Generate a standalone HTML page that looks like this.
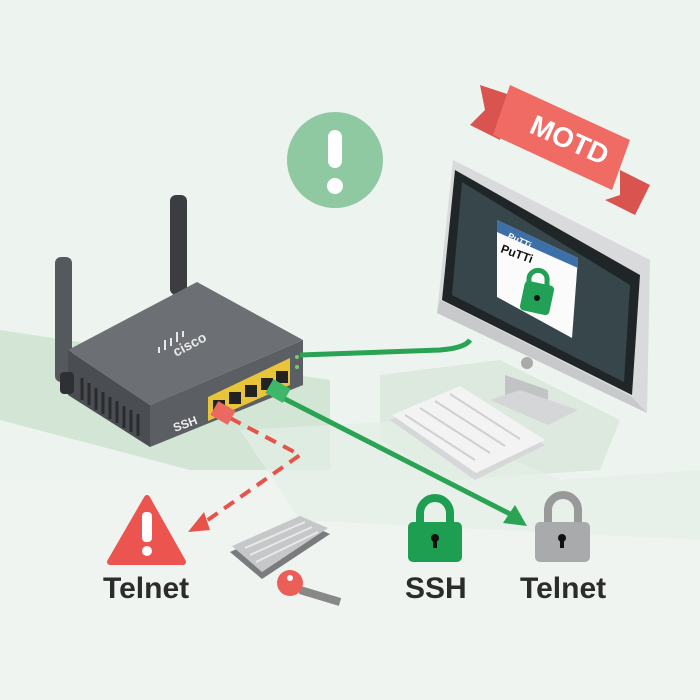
<!DOCTYPE html>
<html><head><meta charset="utf-8"><style>
html,body{margin:0;padding:0;background:#edf3ee;}
svg{display:block}
text{font-family:"Liberation Sans",sans-serif;font-weight:bold}
</style></head><body>
<svg width="700" height="700" viewBox="0 0 700 700" xmlns="http://www.w3.org/2000/svg">
<rect width="700" height="700" fill="#edf3ee"/>
<rect y="480" width="700" height="220" fill="#eff4f0"/>
<!-- floor shapes -->
<polygon points="0,330 330,380 330,470 190,470 0,420" fill="#d3e6d6"/>
<polygon points="380,375 500,360 620,420 600,470 450,480 380,440" fill="#dde9df"/>
<polygon points="240,430 420,420 560,480 700,470 700,540 300,520" fill="#e4eee5" opacity="0.7"/>
<!-- exclamation circle -->
<circle cx="335" cy="160" r="48" fill="#8ec9a2"/>
<rect x="328" y="130" width="14" height="38" rx="7" fill="#fff"/>
<circle cx="335" cy="186" r="8" fill="#fff"/>
<!-- antennas -->
<rect x="170" y="195" width="17" height="100" rx="6" fill="#3b3d40"/>
<rect x="55" y="257" width="17" height="125" rx="6" fill="#55585c"/>
<!-- router -->
<polygon points="68,350 150,405 150,447 68,395" fill="#4a4d51"/>
<polygon points="150,405 303,340 303,385 150,447" fill="#5b5e62"/>
<polygon points="68,350 197,282 303,340 150,405" fill="#6c6f73"/>
<rect x="60" y="372" width="14" height="22" rx="4" fill="#2e3033"/>
<g stroke="#2a2c2f" stroke-width="3">
<line x1="82" y1="378" x2="82" y2="400"/><line x1="89" y1="383" x2="89" y2="405"/><line x1="96" y1="388" x2="96" y2="410"/><line x1="103" y1="392" x2="103" y2="414"/><line x1="110" y1="397" x2="110" y2="419"/><line x1="117" y1="401" x2="117" y2="423"/><line x1="124" y1="406" x2="124" y2="428"/><line x1="131" y1="410" x2="131" y2="432"/><line x1="138" y1="414" x2="138" y2="436"/>
</g>
<text x="176" y="357" font-size="14" fill="#e8e8e8" transform="rotate(-28 176 357)">cisco</text>
<g fill="#e8e8e8"><rect x="158" y="347" width="2" height="6"/><rect x="164" y="340" width="2" height="10"/><rect x="170" y="338" width="2" height="8"/><rect x="176" y="332" width="2" height="10"/><rect x="182" y="331" width="2" height="6"/></g>
<polygon points="208,397 290,358 290,385 208,421" fill="#e8c43a"/>
<g fill="#222"><rect x="213" y="400" width="12" height="12"/><rect x="229" y="392" width="12" height="12"/><rect x="245" y="385" width="12" height="12"/><rect x="261" y="378" width="12" height="12"/><rect x="276" y="371" width="12" height="12"/></g>
<text x="175" y="432" font-size="12" fill="#eee" transform="rotate(-20 175 432)">SSH</text>
<circle cx="297" cy="357" r="2" fill="#7c7"/><circle cx="297" cy="367" r="2" fill="#7c7"/>
<!-- cables -->
<path d="M300,355 L440,350 Q465,348 470,340" stroke="#2aa354" stroke-width="5" fill="none"/>
<path d="M283,398 L512,515" stroke="#2aa354" stroke-width="5" fill="none"/>
<polygon points="527,526 503,523 515,505" fill="#2aa354"/>
<rect x="268" y="383" width="20" height="16" fill="#3cb868" transform="rotate(30 278 391)"/>
<path d="M230,418 L300,455 L205,522" stroke="#e5534b" stroke-width="4" stroke-dasharray="12,8" fill="none"/>
<polygon points="188,532 204,512 210,530" fill="#e5534b"/>
<rect x="213" y="405" width="20" height="16" fill="#ea6a62" transform="rotate(30 223 413)"/>
<!-- monitor -->
<polygon points="505,375 548,390 548,413 505,400" fill="#c2c3c4"/>
<polygon points="490,400 520,390 578,410 548,425" fill="#d5d6d7"/>
<polygon points="453,160 650,260 647,413 437,313" fill="#d9dadb"/>
<polygon points="455,170 640,275 632,395 442,300" fill="#202628"/>
<polygon points="462,182 630,285 624,382 452,295" fill="#36464a"/>
<polygon points="440,300 632,397 647,413 437,313" fill="#c8c9ca"/>
<circle cx="527" cy="363" r="6" fill="#aaa"/>
<!-- putty window -->
<polygon points="497,220 578,258 572,338 497,297" fill="#fbfbfb"/>
<polygon points="497,220 578,258 578,268 497,232" fill="#3d6fa8"/>
<text x="507" y="238" font-size="9" fill="#fff" transform="rotate(25 507 238)">PuTTi</text>
<text x="500" y="252" font-size="12" fill="#111" font-family="Liberation Mono" transform="rotate(20 500 252)">PuTTi</text>
<rect x="522" y="283" width="30" height="30" rx="4" fill="#22a055" transform="rotate(12 537 298)"/>
<path d="M529,283 v-5 a9,9 0 0 1 18,3 v6" stroke="#22a055" stroke-width="5" fill="none"/>
<circle cx="537" cy="298" r="3" fill="#111"/>
<!-- MOTD banner -->
<polygon points="480,85 510,95 500,140 470,125 485,110" fill="#d9534f"/>
<polygon points="620,170 650,185 635,215 605,200 620,195" fill="#d9534f"/>
<polygon points="510,85 630,140 612,190 493,135" fill="#ef6b63"/>
<text x="528" y="132" font-size="28" fill="#fff" transform="rotate(24 528 132)">MOTD</text>
<!-- keyboard -->
<polygon points="390,420 460,390 545,445 475,480" fill="#d6d7d8"/>
<polygon points="392,415 460,386 545,440 476,473" fill="#f3f3f3"/>
<g stroke="#d0d0d0" stroke-width="2"><line x1="405" y1="415" x2="475" y2="460"/><line x1="420" y1="408" x2="490" y2="453"/><line x1="435" y1="401" x2="505" y2="446"/><line x1="450" y1="394" x2="520" y2="439"/></g>
<!-- bottom icons -->
<path d="M147,498 L183,562 L110,562 Z" fill="#ec5450" stroke="#ec5450" stroke-width="6" stroke-linejoin="round"/>
<rect x="142" y="512" width="10" height="30" rx="4" fill="#fff"/>
<circle cx="147" cy="551" r="5" fill="#fff"/>
<text x="103" y="598" font-size="30" fill="#2b2b2b">Telnet</text>
<polygon points="230,552 300,521 330,534 262,579" fill="#7a7b7c"/>
<polygon points="232,546 300,516 328,528 262,572" fill="#c6c7c8"/>
<g stroke="#e8e8e8" stroke-width="2"><line x1="245" y1="548" x2="305" y2="522"/><line x1="250" y1="555" x2="312" y2="527"/><line x1="256" y1="562" x2="318" y2="532"/></g>
<path d="M300,590 L340,602" stroke="#888" stroke-width="8"/>
<circle cx="290" cy="583" r="13" fill="#ec5f58"/>
<circle cx="290" cy="578" r="3" fill="#fff"/>
<path d="M420,525 v-12 a15,15 0 0 1 30,0 v12" stroke="#1e9e50" stroke-width="8" fill="none"/>
<rect x="408" y="522" width="54" height="40" rx="5" fill="#1e9e50"/>
<circle cx="435" cy="538" r="4" fill="#111"/><rect x="433" y="538" width="4" height="10" fill="#111"/>
<text x="405" y="598" font-size="30" fill="#2b2b2b">SSH</text>
<path d="M548,525 v-15 a15,15 0 0 1 30,0 v15" stroke="#999" stroke-width="8" fill="none"/>
<rect x="535" y="522" width="55" height="40" rx="5" fill="#a9aaab"/>
<circle cx="562" cy="538" r="4" fill="#111"/><rect x="560" y="538" width="4" height="10" fill="#111"/>
<text x="520" y="598" font-size="30" fill="#2b2b2b">Telnet</text>
</svg>
</body></html>
